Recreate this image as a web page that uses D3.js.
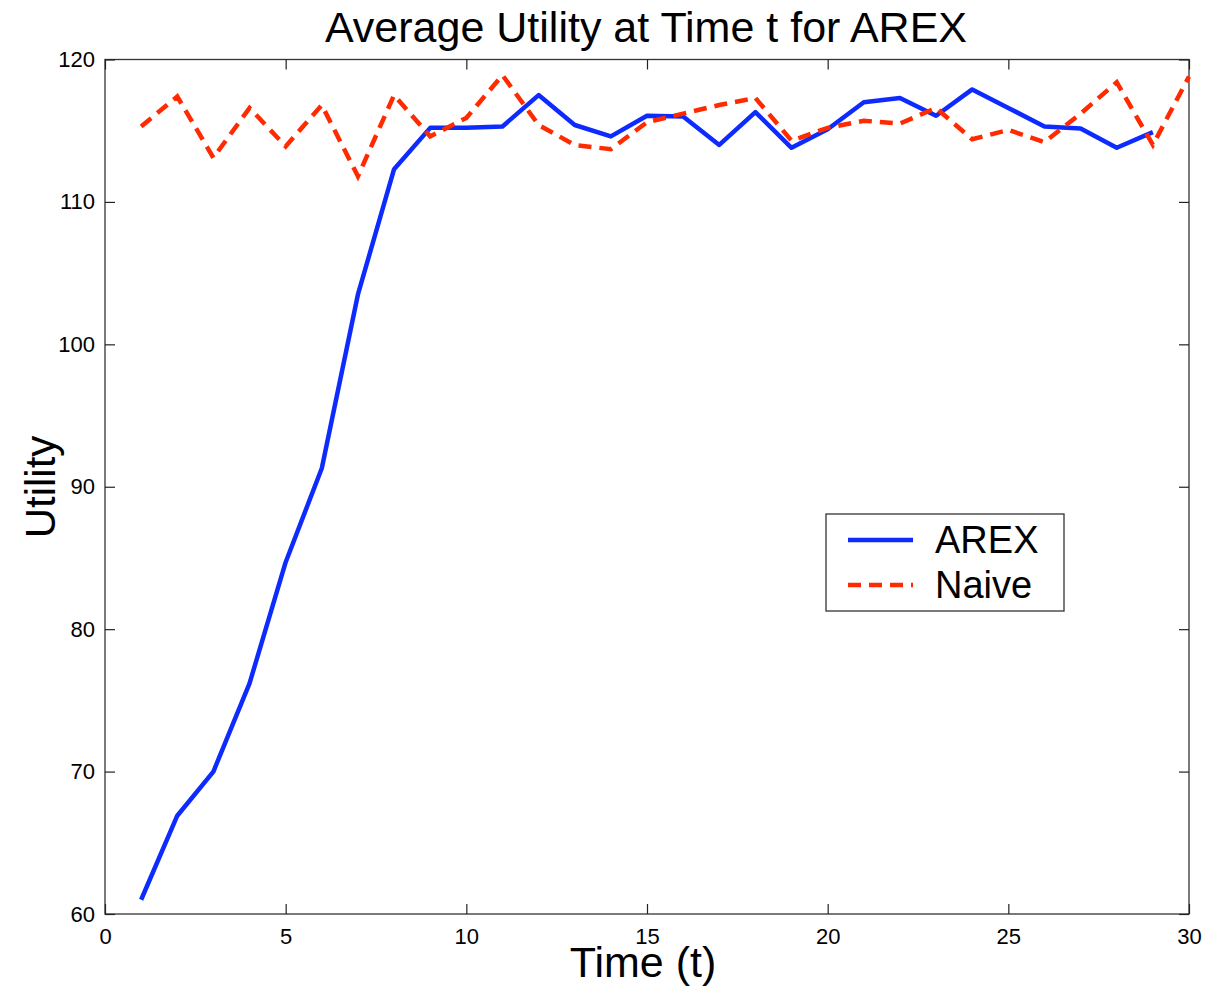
<!DOCTYPE html>
<meta charset="utf-8">
<script src="https://cdn.jsdelivr.net/npm/d3@7"></script>
<style>
	body{margin:0;background:#fff;font-family:"Liberation Sans",Arial,helvetica;}
</style>
<div id="chart"></div>
<script>
// values
var times = [1,2,3,4,5,6,7,8,9,10,11,12,13,14,15,16,17,18,19,20,21,22,23,24,25,26,27,28,29,30]
var arex = [61.0,66.9,70.0,76.2,84.7,91.3,103.5,112.3,115.2,115.2,115.3,117.5,115.4,114.6,116.05,116.0,114.0,116.3,113.8,115.1,117.0,117.3,116.05,117.9,116.6,115.3,115.15,113.8,114.9]
var naive = [115.3,117.4,113.1,116.6,113.9,116.8,111.8,117.5,114.6,115.9,118.9,115.4,114.0,113.7,115.6,116.2,116.8,117.3,114.3,115.2,115.7,115.5,116.6,114.4,115.05,114.2,116.2,118.4,114.0,118.8]
var xTicks = [0,5,10,15,20,25,30]
var yTicks = [60,70,80,90,100,110,120]
var seriesNames = ["AREX","Naive"]

var width = 1205
var height = 987
var plotLeft = 105, plotRight = 1189, plotTop = 59.5, plotBottom = 914

var svg = d3.select("#chart").append("svg")
	.attr("width",width)
	.attr("height",height)

var x = d3.scaleLinear().domain([0,30]).range([plotLeft,plotRight])
var y = d3.scaleLinear().domain([60,120]).range([plotBottom,plotTop])

// plot frame
svg.append("rect")
	.attr("x",plotLeft).attr("y",plotTop)
	.attr("width",plotRight-plotLeft).attr("height",plotBottom-plotTop)
	.attr("fill","none").attr("stroke","#333").attr("stroke-width",1.3)

// axes with inward ticks, mirrored on top and right
var tickLen = 10
var fmt = d3.format("d")
function styleAxis(g){
	g.select(".domain").remove()
	g.selectAll("line").attr("stroke","#222").attr("stroke-width",1.2)
	g.selectAll("text").attr("font-size","22px").attr("fill","#000")
		.attr("font-family","Liberation Sans, Arial, helvetica")
}
svg.append("g").attr("transform","translate(0,"+plotBottom+")")
	.call(d3.axisBottom(x).tickValues(xTicks).tickFormat(fmt).tickSizeInner(-tickLen).tickSizeOuter(0).tickPadding(14))
	.call(styleAxis)
svg.append("g").attr("transform","translate(0,"+plotTop+")")
	.call(d3.axisTop(x).tickValues(xTicks).tickFormat("").tickSizeInner(-tickLen).tickSizeOuter(0))
	.call(styleAxis)
svg.append("g").attr("transform","translate("+plotLeft+",0)")
	.call(d3.axisLeft(y).tickValues(yTicks).tickFormat(fmt).tickSizeInner(-tickLen).tickSizeOuter(0).tickPadding(10))
	.call(styleAxis)
svg.append("g").attr("transform","translate("+plotRight+",0)")
	.call(d3.axisRight(y).tickValues(yTicks).tickFormat("").tickSizeInner(-tickLen).tickSizeOuter(0))
	.call(styleAxis)

// lines
var line = d3.line().x(function(d){return x(d[0])}).y(function(d){return y(d[1])})
var arexPts = arex.map(function(v,i){return [times[i],v]})
var naivePts = naive.map(function(v,i){return [times[i],v]})

svg.append("path").datum(arexPts)
	.attr("d",line).attr("fill","none")
	.attr("stroke","#0d2bff").attr("stroke-width",4.5)
	.attr("stroke-linejoin","round")
svg.append("path").datum(naivePts)
	.attr("d",line).attr("fill","none")
	.attr("stroke","#ff2a00").attr("stroke-width",4.5)
	.attr("stroke-dasharray","13,8")

// title and axis labels
svg.append("text").attr("x",646).attr("y",42)
	.attr("text-anchor","middle").attr("font-size","43px")
	.text("Average Utility at Time t for AREX")
svg.append("text").attr("x",643).attr("y",977)
	.attr("text-anchor","middle").attr("font-size","43px")
	.text("Time (t)")
svg.append("text").attr("transform","translate(55,487) rotate(-90)")
	.attr("text-anchor","middle").attr("font-size","42px")
	.text("Utility")

// legend
var legend = svg.append("g").attr("transform","translate(826,514)")
legend.append("rect").attr("width",238).attr("height",97)
	.attr("fill","#fff").attr("stroke","#333").attr("stroke-width",1.3)
var colors = ["#0d2bff","#ff2a00"]
var dashes = [null,"13,8"]
seriesNames.forEach(function(name,i){
	var ly = 26 + i*45
	legend.append("line").attr("x1",22).attr("x2",87).attr("y1",ly).attr("y2",ly)
		.attr("stroke",colors[i]).attr("stroke-width",4.5)
		.attr("stroke-dasharray",dashes[i])
	legend.append("text").attr("x",109).attr("y",ly+13)
		.attr("font-size","38px").text(name)
})
</script>
